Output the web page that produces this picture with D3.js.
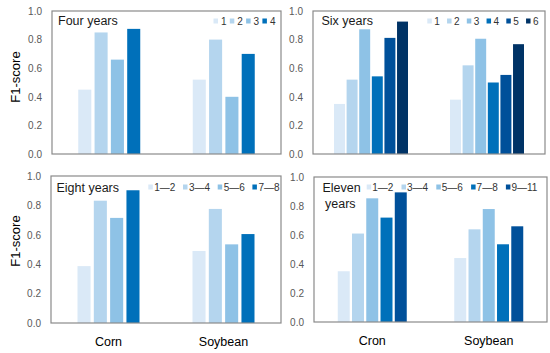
<!DOCTYPE html>
<html><head><meta charset="utf-8">
<script src="https://cdn.jsdelivr.net/npm/d3@7/dist/d3.min.js"></script>
<style>
html,body{margin:0;padding:0;background:#fff;}
text{font-family:"Liberation Sans",Arial,sans-serif;}
</style></head>
<body><svg id="chart" width="550" height="353"></svg>
<script>
// ---- data ----
const categoriesA = ["Corn", "Soybean"];
const categoriesB = ["Cron", "Soybean"];
const yTicks = [0, 0.2, 0.4, 0.6, 0.8, 1.0];

const fourSeries = ["1", "2", "3", "4"];
const fourCorn = [0.45, 0.85, 0.66, 0.875];
const fourSoy  = [0.52, 0.80, 0.40, 0.70];

const sixSeries = ["1", "2", "3", "4", "5", "6"];
const sixCorn = [0.35, 0.52, 0.872, 0.543, 0.812, 0.926];
const sixSoy  = [0.38, 0.62, 0.806, 0.50, 0.553, 0.768];

const eightSeries = ["1—2", "3—4", "5—6", "7—8"];
const eightCorn = [0.387, 0.832, 0.715, 0.903];
const eightSoy  = [0.49, 0.776, 0.535, 0.605];

const elevenSeries = ["1—2", "3—4", "5—6", "7—8", "9—11"];
const elevenCorn = [0.35, 0.61, 0.853, 0.72, 0.894];
const elevenSoy  = [0.441, 0.639, 0.779, 0.536, 0.66];

const palette = ["#DAE9F7", "#B4D5EE", "#8EC2E6", "#0070BA", "#00509A", "#003366"];

const svg = d3.select("#chart");

function panel(cfg) {
  const g = svg.append("g");
  const x0 = d3.scaleBand().domain(cfg.cats).range([cfg.fx0, cfg.fx1]).padding(0);
  const x1 = d3.scaleBand().domain(cfg.series).range([-cfg.gw / 2, cfg.gw / 2]).paddingInner(cfg.pad).paddingOuter(0);
  const y = d3.scaleLinear().domain([0, 1]).range([cfg.fy1, cfg.fy0]);
  const color = d3.scaleOrdinal().domain(cfg.series).range(palette);

  const rows = cfg.cats.map((c, i) => ({cat: c, vals: cfg.series.map((s, j) => ({s, v: cfg.values[i][j]}))}));

  const grp = g.selectAll("g.grp").data(rows).join("g")
    .attr("transform", d => `translate(${x0(d.cat) + x0.bandwidth() / 2},0)`);
  grp.selectAll("rect").data(d => d.vals).join("rect")
    .attr("x", d => x1(d.s)).attr("width", x1.bandwidth())
    .attr("y", d => y(d.v)).attr("height", d => y(0) - y(d.v))
    .attr("fill", d => color(d.s));

  // frame
  g.append("rect").attr("x", cfg.fx0).attr("y", cfg.fy0)
    .attr("width", cfg.fx1 - cfg.fx0).attr("height", cfg.fy1 - cfg.fy0)
    .attr("fill", "none").attr("stroke", "#8a8a8a").attr("stroke-width", 1.2);

  // y axis
  const ya = g.append("g").attr("transform", `translate(${cfg.fx0},0)`)
    .call(d3.axisLeft(y).tickValues(yTicks).tickSize(0).tickPadding(10).tickFormat(d3.format(".1f")));
  ya.select(".domain").remove();
  ya.selectAll("text").attr("fill", "#595959").style("font-size", "10px");

  if (cfg.showX) {
    const xa = g.append("g").attr("transform", `translate(0,${cfg.fy1})`)
      .call(d3.axisBottom(x0).tickSize(0).tickPadding(14));
    xa.select(".domain").remove();
    xa.selectAll("text").attr("fill", "#000").style("font-size", "12.5px");
  }

  // title
  cfg.title.forEach((t, i) => {
    g.append("text").attr("x", cfg.tx + (i ? cfg.tx2off : 0)).attr("y", cfg.ty + i * 16)
      .attr("dy", "0.35em").attr("fill", "#1a1a1a").style("font-size", "12.5px").text(t);
  });

  // legend
  const lg = g.selectAll("g.leg").data(cfg.series).join("g")
    .attr("transform", (d, i) => `translate(${cfg.lx + i * cfg.ls},${cfg.ly})`);
  lg.append("rect").attr("x", 0).attr("y", -2.5).attr("width", 4.5).attr("height", 5)
    .attr("fill", d => color(d));
  lg.append("text").attr("x", cfg.lt).attr("y", 0).attr("dy", "0.35em")
    .attr("fill", "#333").style("font-size", "10px").text(d => d);

  if (cfg.ylabel) {
    g.append("text").attr("transform", `translate(${15},${cfg.ylabelY}) rotate(-90)`)
      .attr("text-anchor", "middle").attr("dy", "0.35em").attr("fill", "#000")
      .style("font-size", "13px").text("F1-score");
  }
}

panel({cats: categoriesA, series: fourSeries, values: [fourCorn, fourSoy],
  fx0: 52, fx1: 281, fy0: 11, fy1: 154, gw: 62, pad: 0.2, showX: false,
  title: ["Four years"], tx: 58, ty: 21, tx2off: 0,
  lx: 213.5, ls: 16.3, lt: 7.5, ly: 21, ylabel: true, ylabelY: 77});

panel({cats: categoriesA, series: sixSeries, values: [sixCorn, sixSoy],
  fx0: 313, fx1: 545, fy0: 11, fy1: 154, gw: 74, pad: 0.13, showX: false,
  title: ["Six years"], tx: 321.5, ty: 21, tx2off: 0,
  lx: 427.3, ls: 19.75, lt: 7, ly: 21, ylabel: false});

panel({cats: categoriesA, series: eightSeries, values: [eightCorn, eightSoy],
  fx0: 51, fx1: 281, fy0: 176, fy1: 323, gw: 62, pad: 0.2, showX: true,
  title: ["Eight years"], tx: 56.5, ty: 187.5, tx2off: 0,
  lx: 148.3, ls: 34.7, lt: 6, ly: 187, ylabel: true, ylabelY: 241});

panel({cats: categoriesB, series: elevenSeries, values: [elevenCorn, elevenSoy],
  fx0: 314, fx1: 547, fy0: 177, fy1: 322, gw: 69, pad: 0.16, showX: true,
  title: ["Eleven", "years"], tx: 322.5, ty: 187.5, tx2off: 2.5,
  lx: 366.7, ls: 34.8, lt: 5.5, ly: 187, ylabel: false});
</script></body></html>
